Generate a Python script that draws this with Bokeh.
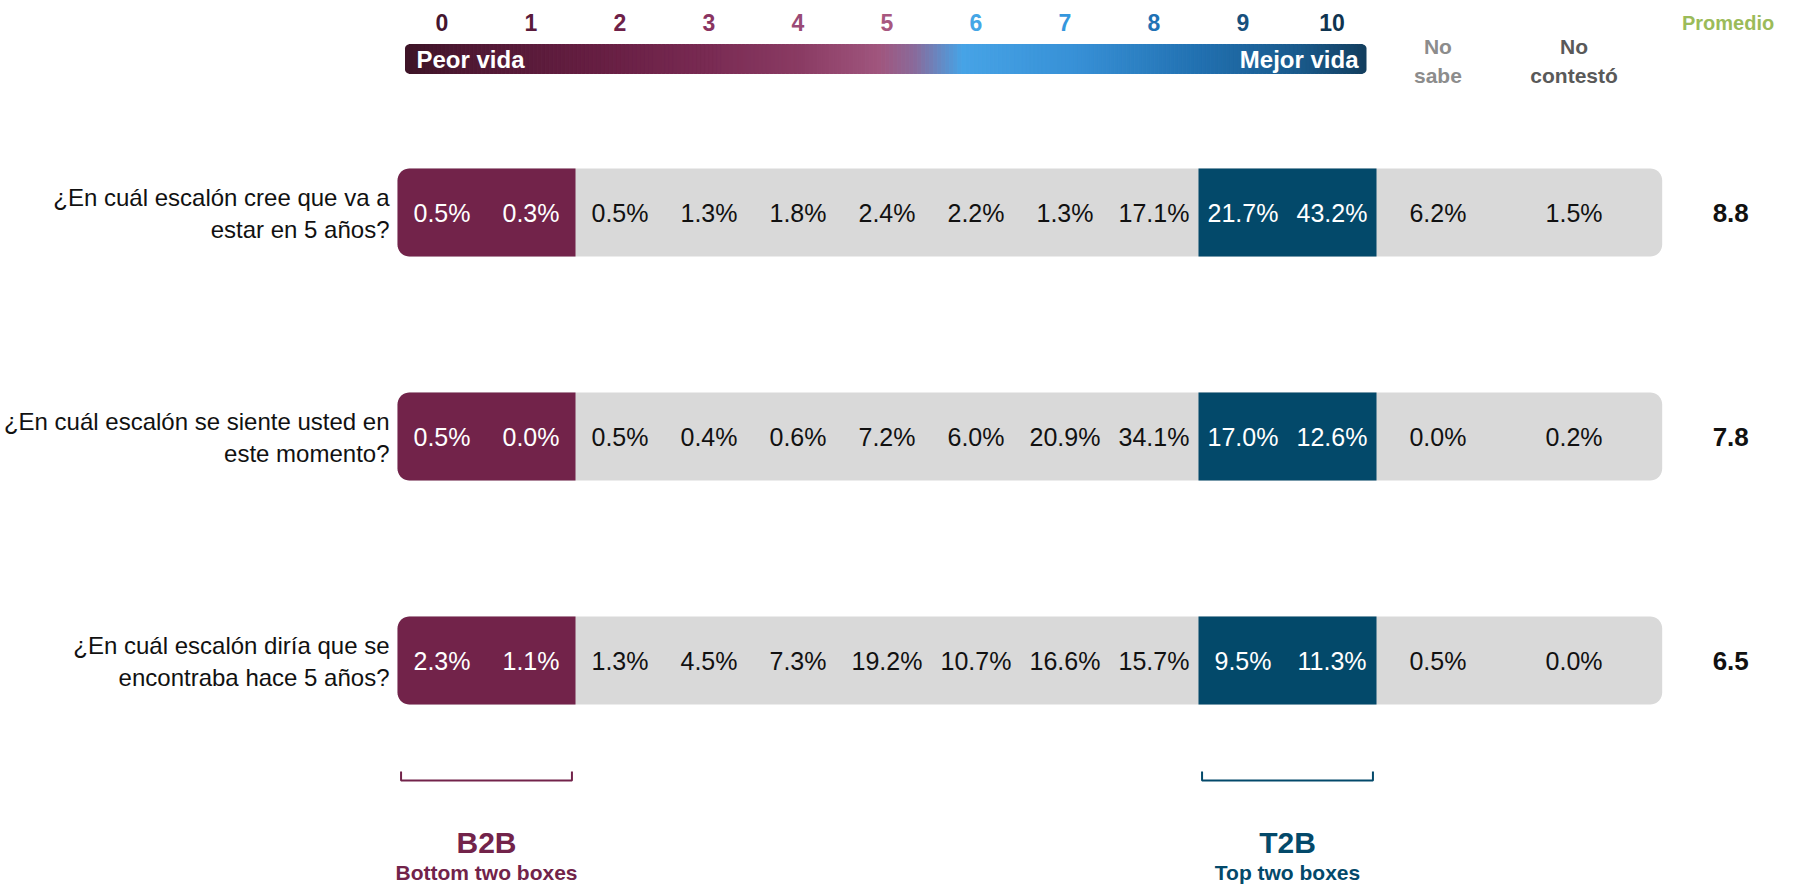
import numpy as np
from bokeh.plotting import figure
from bokeh.models import Range1d, ColumnDataSource
from bokeh.core.properties import value
from bokeh.embed import file_html
from bokeh.resources import INLINE

# ---------------- data ----------------
question_line1 = ["¿En cuál escalón cree que va a",
                  "¿En cuál escalón se siente usted en",
                  "¿En cuál escalón diría que se"]
question_line2 = ["estar en 5 años?",
                  "este momento?",
                  "encontraba hace 5 años?"]
scale_labels = ["0", "1", "2", "3", "4", "5", "6", "7", "8", "9", "10"]
extra_line1 = ["No", "No"]
extra_line2 = ["sabe", "contestó"]
row_future = [0.5, 0.3, 0.5, 1.3, 1.8, 2.4, 2.2, 1.3, 17.1, 21.7, 43.2, 6.2, 1.5]
row_now = [0.5, 0.0, 0.5, 0.4, 0.6, 7.2, 6.0, 20.9, 34.1, 17.0, 12.6, 0.0, 0.2]
row_past = [2.3, 1.1, 1.3, 4.5, 7.3, 19.2, 10.7, 16.6, 15.7, 9.5, 11.3, 0.5, 0.0]
promedio = [8.8, 7.8, 6.5]
b2b_cells = [0, 1]
t2b_cells = [9, 10]
rows = [row_future, row_now, row_past]

# ---------------- layout / style ----------------
W, H = 1806, 886
PX, PY = 89.0, 224.0          # pixels per x unit (cell) and per y unit (row)
X0PX, Y0PX = 441.5, 212.0     # pixel position of cell 0 / row 0
EXTRA_X = [11.19, 12.72]      # centres of "No sabe" / "No contestó"
BAR_END = 13.71
PROM_X = 14.48
HALF = 44.0 / PY
FONT = "Liberation Sans"
MAROON = "#72234a"
NAVY = "#03496a"
GRAY = "#d9d9d9"
digit_colors = ["#45152f", "#5a1a3b", "#6e2148", "#8a3461", "#9a4a76", "#a8577f",
                "#45a6e6", "#3597dd", "#1f72b5", "#17507d", "#0f3450"]


def ydat(px):
    return (px - Y0PX) / PY


def xdat(px):
    return (px - X0PX) / PX


p = figure(width=W, height=H, output_backend="svg", toolbar_location=None,
           x_range=Range1d(xdat(0), xdat(W)), y_range=Range1d(ydat(H), ydat(0)),
           min_border=0, outline_line_color=None,
           background_fill_color="white", border_fill_color="white")
p.xaxis.visible = False
p.yaxis.visible = False
p.grid.visible = False


def rounded(x0, x1, y0, y1, r, corners):
    rx, ry = r / PX, r / PY
    t = np.linspace(0, np.pi / 2, 10)
    xs, ys = [], []
    specs = [(corners[0], x0, y0, x0 + rx, y0 + ry, np.pi),
             (corners[1], x1, y0, x1 - rx, y0 + ry, 1.5 * np.pi),
             (corners[2], x1, y1, x1 - rx, y1 - ry, 0.0),
             (corners[3], x0, y1, x0 + rx, y1 - ry, 0.5 * np.pi)]
    for on, cx, cy, ccx, ccy, a0 in specs:
        if on:
            a = a0 + t
            xs += list(ccx + rx * np.cos(a))
            ys += list(ccy + ry * np.sin(a))
        else:
            xs.append(cx)
            ys.append(cy)
    return xs, ys


# ---------------- bars ----------------
gx, gy, mx, my = [], [], [], []
for i, _ in enumerate(rows):
    xs, ys = rounded(-0.5, BAR_END, i - HALF, i + HALF, 12, (1, 1, 1, 1))
    gx.append(xs); gy.append(ys)
    xs, ys = rounded(min(b2b_cells) - 0.5, max(b2b_cells) + 0.5, i - HALF, i + HALF, 12, (1, 0, 0, 1))
    mx.append(xs); my.append(ys)
p.patches(gx, gy, fill_color=GRAY, line_color=None)
p.patches(mx, my, fill_color=MAROON, line_color=None)
p.quad(left=[min(t2b_cells) - 0.5] * len(rows), right=[max(t2b_cells) + 0.5] * len(rows),
       bottom=[i - HALF for i in range(len(rows))], top=[i + HALF for i in range(len(rows))],
       fill_color=NAVY, line_color=None)

# percent labels
lx, ly, lt, lc = [], [], [], []
cell_x = list(range(len(scale_labels))) + EXTRA_X
for i, r in enumerate(rows):
    for j, v in enumerate(r):
        lx.append(cell_x[j]); ly.append(i); lt.append(f"{v:.1f}%")
        lc.append("white" if (j in b2b_cells or j in t2b_cells) else "#111111")
p.text(x="x", y="y", text="t", text_color="c",
       source=ColumnDataSource(dict(x=lx, y=ly, t=lt, c=lc)),
       text_font=value(FONT), text_font_size="25px",
       text_align="center", text_baseline="middle")

# question labels
qx = xdat(389)
p.text(x=[qx] * 3, y=[i - 15.5 / PY for i in range(3)], text=question_line1,
       text_font=value(FONT), text_font_size="24px", text_color="#111111",
       text_align="right", text_baseline="middle")
p.text(x=[qx] * 3, y=[i + 16.5 / PY for i in range(3)], text=question_line2,
       text_font=value(FONT), text_font_size="24px", text_color="#111111",
       text_align="right", text_baseline="middle")

# promedio values
p.text(x=[PROM_X] * 3, y=list(range(3)), text=[f"{v:.1f}" for v in promedio],
       text_font=value(FONT), text_font_size="26px", text_font_style="bold",
       text_color="#111111", text_align="center", text_baseline="middle")

# ---------------- header ----------------
p.text(x=list(range(len(scale_labels))), y=[ydat(22)] * len(scale_labels),
       text=scale_labels, text_color=digit_colors,
       text_font=value(FONT), text_font_size="23px", text_font_style="bold",
       text_align="center", text_baseline="middle")
p.text(x=[PROM_X - 0.03], y=[ydat(22)], text=["Promedio"], text_color="#9bbb59",
       text_font=value(FONT), text_font_size="20px", text_font_style="bold",
       text_align="center", text_baseline="middle")
p.text(x=EXTRA_X, y=[ydat(46)] * 2, text=extra_line1, text_color=["#8c8c8c", "#595959"],
       text_font=value(FONT), text_font_size="21px", text_font_style="bold",
       text_align="center", text_baseline="middle")
p.text(x=EXTRA_X, y=[ydat(75)] * 2, text=extra_line2, text_color=["#8c8c8c", "#595959"],
       text_font=value(FONT), text_font_size="21px", text_font_style="bold",
       text_align="center", text_baseline="middle")

# gradient scale bar
stops = [(0.0, "#3d1427"), (0.065, "#4f1833"), (0.2, "#661e42"), (0.31, "#782a52"),
         (0.41, "#8a3b63"), (0.495, "#a0567e"), (0.53, "#8a6a9a"), (0.58, "#46a3e6"),
         (0.7, "#3790d6"), (0.827, "#2170b0"), (0.93, "#1a5a8c"), (1.0, "#133e5e")]


def hex2rgb(h):
    return np.array([int(h[k:k + 2], 16) for k in (1, 3, 5)], dtype=float)


def color_at(f):
    for (f0, c0), (f1, c1) in zip(stops[:-1], stops[1:]):
        if f0 <= f <= f1:
            t = (f - f0) / (f1 - f0) if f1 > f0 else 0
            c = hex2rgb(c0) * (1 - t) + hex2rgb(c1) * t
            return "#%02x%02x%02x" % tuple(int(round(v)) for v in c)
    return stops[-1][1]


gx0, gx1 = xdat(404.5), xdat(1366)
gy0, gy1 = ydat(44), ydat(73)
N = 240
edges = np.linspace(gx0, gx1, N + 1)
cols = [color_at((k + 0.5) / N) for k in range(N)]
p.quad(left=edges[1:-2], right=edges[2:-1], bottom=[gy1] * (N - 2), top=[gy0] * (N - 2),
       fill_color=cols[1:-1], line_color=cols[1:-1], line_width=1)
ex0, ey0 = rounded(edges[0], edges[1] + 0.002, gy0, gy1, 4, (1, 0, 0, 1))
ex1, ey1 = rounded(edges[-2] - 0.002, edges[-1], gy0, gy1, 4, (0, 1, 1, 0))
p.patches([ex0, ex1], [ey0, ey1], fill_color=[cols[0], cols[-1]], line_color=None)
p.text(x=[xdat(416)], y=[ydat(59)], text=["Peor vida"], text_color="white",
       text_font=value(FONT), text_font_size="24px", text_font_style="bold",
       text_align="left", text_baseline="middle")
p.text(x=[xdat(1358)], y=[ydat(59)], text=["Mejor vida"], text_color="white",
       text_font=value(FONT), text_font_size="24px", text_font_style="bold",
       text_align="right", text_baseline="middle")

# ---------------- brackets ----------------
by0, by1 = ydat(771), ydat(780)
for cells, col, title, sub in [(b2b_cells, MAROON, "B2B", "Bottom two boxes"),
                               (t2b_cells, NAVY, "T2B", "Top two boxes")]:
    a, b = min(cells) - 0.46, max(cells) + 0.46
    p.line(x=[a, a, b, b], y=[by0, by1, by1, by0], line_color=col, line_width=2)
    mid = (min(cells) + max(cells)) / 2
    p.text(x=[mid], y=[ydat(842)], text=[title], text_color=col,
           text_font=value(FONT), text_font_size="30px", text_font_style="bold",
           text_align="center", text_baseline="middle")
    p.text(x=[mid], y=[ydat(872)], text=[sub], text_color=col,
           text_font=value(FONT), text_font_size="21px", text_font_style="bold",
           text_align="center", text_baseline="middle")

open("out.html", "w").write(file_html(p, INLINE))
